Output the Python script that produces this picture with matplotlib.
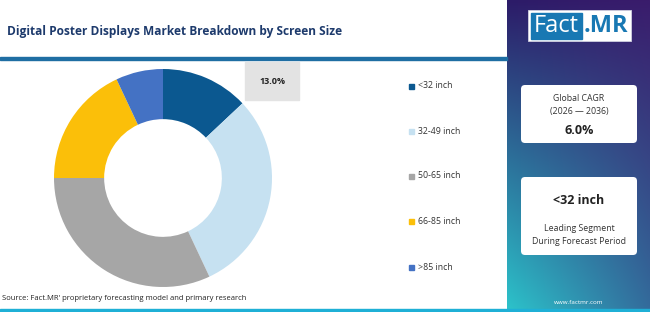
import matplotlib
matplotlib.use("Agg")
import matplotlib.pyplot as plt
import numpy as np
from matplotlib.patches import Rectangle, FancyBboxPatch

plt.rcParams['font.family'] = ['Open Sans', 'DejaVu Sans']

categories = ["<32 inch", "32-49 inch", "50-65 inch", "66-85 inch", ">85 inch"]
shares = [13.0, 30.0, 32.0, 18.0, 7.0]
colors = ["#0b5890", "#c6e1f1", "#a6a6a6", "#fbbf09", "#4472c4"]
title = "Digital Poster Displays Market Breakdown by Screen Size"
source = "Source: Fact.MR' proprietary forecasting model and primary research"
cagr_label = "Global CAGR\n(2026 \u2014 2036)"
cagr_value = "6.0%"
lead_segment = "<32 inch"
lead_label = "Leading Segment\nDuring Forecast Period"

W, H = 650, 312
fig = plt.figure(figsize=(W / 100, H / 100), dpi=100)
fig.patch.set_facecolor("white")

def fx(x):
    return x / W

def fy(y):
    return 1 - y / H

# right gradient panel
grad_ax = fig.add_axes([fx(507), 0, fx(W - 507), 1], zorder=0)
grad_ax.axis("off")
ny, nx = 200, 100
yy, xx = np.mgrid[0:1:ny * 1j, 0:1:nx * 1j]
tl = np.array([0x2c, 0x1b, 0x68]) / 255
tr = np.array([0x3a, 0x1c, 0x6c]) / 255
bl = np.array([0x2c, 0xc4, 0xcb]) / 255
br = np.array([0x33, 0x6c, 0x9c]) / 255
img = (tl[None, None, :] * ((1 - xx) * (1 - yy))[..., None]
       + tr[None, None, :] * (xx * (1 - yy))[..., None]
       + bl[None, None, :] * ((1 - xx) * yy)[..., None]
       + br[None, None, :] * (xx * yy)[..., None])
grad_ax.imshow(img, aspect="auto", extent=[0, 1, 1, 0])
grad_ax.set_xlim(0, 1)
grad_ax.set_ylim(1, 0)

# overlay axes in pixel coordinates
ov = fig.add_axes([0, 0, 1, 1], zorder=5)
ov.set_xlim(0, W)
ov.set_ylim(H, 0)
ov.axis("off")
ov.patch.set_alpha(0)

# lines
ov.add_patch(Rectangle((0, 57), 507, 2.5, color="#1f6ea3", zorder=3))
ov.add_patch(Rectangle((0, 309), W, 3, color="#1fb0d6", zorder=3))

# title
ov.text(7, 31, title, fontsize=8.6, fontweight="bold", color="#1d3a6c",
        va="center", ha="left")

# donut
cx, cy, r = 163, 178, 109
pax = fig.add_axes([fx(cx - r), fy(cy + r), fx(2 * r), (2 * r) / H], zorder=2)
pax.pie(shares, colors=colors, startangle=90, counterclock=False,
        radius=1.0, wedgeprops=dict(width=0.46, edgecolor="none"))
pax.set_xlim(-1, 1)
pax.set_ylim(-1, 1)
pax.set_aspect("auto")
pax.axis("off")

# label box
ov.add_patch(Rectangle((245, 62), 54, 38, color="#e3e3e3", zorder=4))
ov.text(272, 81, f"{shares[0]:.1f}%", fontsize=6.5, fontweight="bold",
        color="#222222", ha="center", va="center", zorder=5)

# legend
leg_y = [86, 131, 176, 221, 267]
for cat, col, ly in zip(categories, colors, leg_y):
    ov.add_patch(Rectangle((409, ly - 2.5), 5, 5, color=col, zorder=4))
    ov.text(418, ly, cat, fontsize=6.3, color="#333333", ha="left", va="center")

# source
ov.text(2, 298, source, fontsize=5.5, color="#222222", ha="left", va="center")

# logo
ov.add_patch(Rectangle((528, 10), 103, 31, facecolor="white", edgecolor="#d0d0e0",
                       linewidth=0.6, zorder=4))
ov.add_patch(Rectangle((531, 12.5), 51, 26, color="#1878b3", zorder=5))
ov.text(556.5, 26, "Fact", fontsize=17, color="white", ha="center", va="center", zorder=6)
ov.text(606, 26, ".MR", fontsize=17, color="#1878b3", fontweight="bold",
        ha="center", va="center", zorder=6)

# cards
for (y0, y1) in [(85, 143), (177, 255)]:
    ov.add_patch(FancyBboxPatch((521, y0), 116, y1 - y0,
                                boxstyle="round,pad=0,rounding_size=4",
                                facecolor="white", edgecolor="none", zorder=4))

ov.text(579, 105, cagr_label, fontsize=6.3, color="#333333", ha="center", va="center",
        linespacing=1.5, zorder=5)
ov.text(579, 130, cagr_value, fontsize=9, fontweight="bold", color="#222222",
        ha="center", va="center", zorder=5)
ov.text(579, 201, lead_segment, fontsize=9, fontweight="bold", color="#222222",
        ha="center", va="center", zorder=5)
ov.text(579, 235, lead_label, fontsize=6.3, color="#333333", ha="center", va="center",
        linespacing=1.5, zorder=5)

ov.text(579, 302, "www.factmr.com", fontsize=4.5, color="white", ha="center",
        va="center", zorder=5)

fig.savefig("out.png", dpi=100)
